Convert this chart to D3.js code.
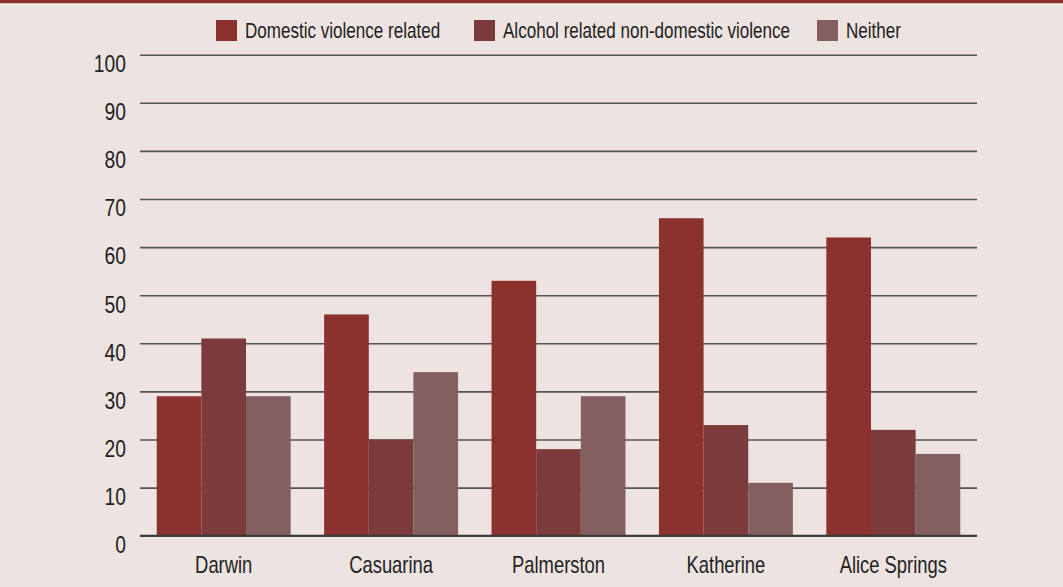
<!DOCTYPE html>
<html>
<head>
<meta charset="utf-8">
<script src="https://cdn.jsdelivr.net/npm/d3@7"></script>
<style>
  html, body { margin: 0; padding: 0; background: #ede3e0; }
  svg { display: block; }
  text { font-family: "Liberation Sans", Arial, sans-serif; fill: #222; }
</style>
</head>
<body>
<svg id="chart" width="1063" height="587"></svg>
<script>
// Regions (x categories)
const regions = ["Darwin", "Casuarina", "Palmerston", "Katherine", "Alice Springs"];
// Series names
const seriesNames = ["Domestic violence related", "Alcohol related non-domestic violence", "Neither"];
// Percentages per series, in region order
const domestic = [29, 46, 53, 66, 62];
const alcohol = [41, 20, 18, 23, 22];
const neither = [29, 34, 29, 11, 17];
// Y axis ticks
const yTicks = [0, 10, 20, 30, 40, 50, 60, 70, 80, 90, 100];

const seriesValues = [domestic, alcohol, neither];
const colors = ["#8b312e", "#7b3b3d", "#835f5f"];

const W = 1063, H = 587;
const margin = { left: 140, right: 86, top: 54.7, bottom: 51.3 };
const FONT = "'Liberation Sans', Arial, sans-serif";
const svg = d3.select("#chart");

// background and top band
svg.append("rect").attr("width", W).attr("height", H).attr("fill", "#ede3e0");
svg.append("rect").attr("x", 0).attr("y", 0).attr("width", W).attr("height", 3.5).attr("fill", "#8b312e");
svg.append("rect").attr("x", 0).attr("y", 3.5).attr("width", W).attr("height", 1.2).attr("fill", "#f8f2f0");

const x0 = d3.scaleBand()
  .domain(regions)
  .range([margin.left, W - margin.right])
  .paddingInner(0.2)
  .paddingOuter(0.1);
const x1 = d3.scaleBand()
  .domain(d3.range(seriesNames.length))
  .range([0, x0.bandwidth()]);
const y = d3.scaleLinear().domain([0, 100]).range([H - margin.bottom, margin.top]);

// gridlines with value labels hanging just below each line
const yAxis = d3.axisLeft(y)
  .tickValues(yTicks)
  .tickSize(-(W - margin.left - margin.right))
  .tickFormat(d3.format("d"));
const gy = svg.append("g").attr("transform", `translate(${margin.left},0)`).call(yAxis);
gy.select(".domain").remove();
gy.selectAll(".tick line").attr("stroke", "#555").attr("stroke-width", 1.6);
gy.selectAll(".tick text")
  .attr("x", 0).attr("dy", null).attr("y", 0)
  .attr("transform", "translate(-14,16.8) scale(0.82,1)")
  .attr("font-size", 23.5).attr("fill", "#222")
  .style("font-family", FONT);

// bars
const groups = svg.append("g").selectAll("g")
  .data(regions)
  .join("g")
  .attr("transform", d => `translate(${x0(d)},0)`);
groups.selectAll("rect")
  .data((d, i) => seriesValues.map((vals, s) => ({ s, v: vals[i] })))
  .join("rect")
  .attr("x", d => x1(d.s))
  .attr("width", x1.bandwidth())
  .attr("y", d => y(d.v))
  .attr("height", d => y(0) - y(d.v))
  .attr("fill", d => colors[d.s]);

// baseline
svg.append("line")
  .attr("x1", margin.left).attr("x2", W - margin.right)
  .attr("y1", y(0)).attr("y2", y(0))
  .attr("stroke", "#3a3a3a").attr("stroke-width", 2);

// category labels
const xAxis = d3.axisBottom(x0).tickSize(0);
const gx = svg.append("g").attr("transform", `translate(0,${y(0)})`).call(xAxis);
gx.select(".domain").remove();
gx.selectAll(".tick text")
  .attr("y", 0).attr("dy", null)
  .attr("transform", "translate(0,37.5) scale(0.8,1)")
  .attr("font-size", 23).attr("fill", "#222")
  .style("font-family", FONT);

// legend
const legendX = [216, 474, 817];
const legend = svg.append("g").selectAll("g")
  .data(seriesNames)
  .join("g")
  .attr("transform", (d, i) => `translate(${legendX[i]},20)`);
legend.append("rect").attr("width", 21).attr("height", 21).attr("fill", (d, i) => colors[i]);
legend.append("text")
  .attr("transform", "translate(29,18.3) scale(0.775,1)")
  .attr("font-size", 22).text(d => d);
</script>
</body>
</html>
